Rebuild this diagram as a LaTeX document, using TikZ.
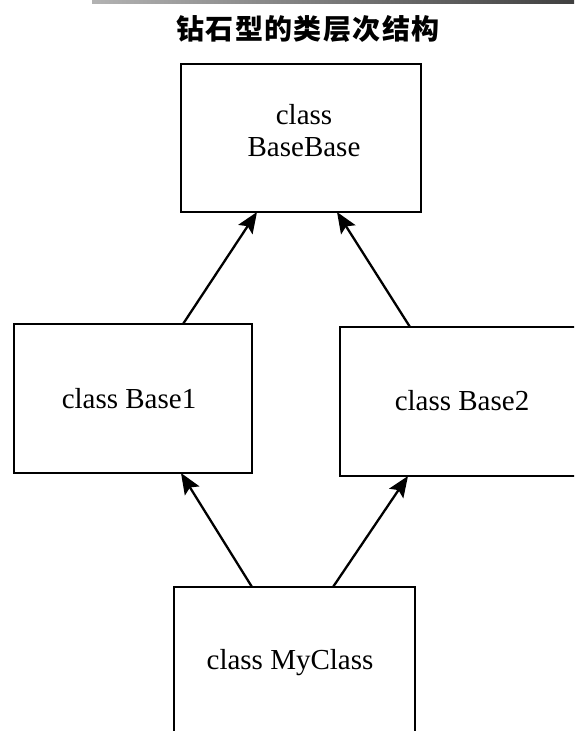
\documentclass[tikz,border=0pt]{standalone}
\usepackage{fontspec}
\setmainfont{Liberation Serif}
\newfontfamily\cjk{Noto Sans CJK SC}[LetterSpace=5]
\usetikzlibrary{arrows.meta}
\begin{document}
\begin{tikzpicture}[x=1pt,y=-1pt,
  box/.style={draw, line width=2pt, inner sep=0pt, outer sep=0pt,
              minimum width=240pt, minimum height=149pt},
  lbl/.style={font=\fontsize{29}{32}\selectfont, inner sep=0pt, anchor=base},
  arr/.style={line width=2.3pt, -{Stealth[length=21pt,width=17pt,inset=4pt]}},
]
\clip (0,0) rectangle (574,731);
% page rule along the top edge
\shade[left color=black!30, right color=black!75] (92,0) rectangle (574,3);
% heading
\node[font=\cjk\bfseries\fontsize{28}{28}\selectfont, inner sep=0pt, anchor=base]
  (title) at (308,39) {钻石型的类层次结构};

% class boxes
\node[box, minimum height=148pt] (bb) at (301,138) {};
\node[box, minimum width=238pt] (b1) at (133,398.5) {};
\node[box] (b2) at (460,401.5) {};
\node[box, minimum width=241pt] (mc) at (294.5,661.5) {};

% class names
\node[lbl] (bbt1) at (304,124) {class};
\node[lbl] (bbt2) at (304,156) {BaseBase};
\node[lbl] (b1t) at (129,408) {class Base1};
\node[lbl] (b2t) at (462,410) {class Base2};
\node[lbl] (mct) at (290,669) {class MyClass};

% inheritance arrows
\draw[arr] ([xshift=169pt]b1.north west) -- ([xshift=76pt]bb.south west);
\draw[arr] ([xshift=70pt]b2.north west) -- ([xshift=156pt]bb.south west);
\draw[arr] ([xshift=78pt]mc.north west) -- ([xshift=167pt]b1.south west);
\draw[arr] ([xshift=159pt]mc.north west) -- ([xshift=68pt]b2.south west);
\end{tikzpicture}
\end{document}
